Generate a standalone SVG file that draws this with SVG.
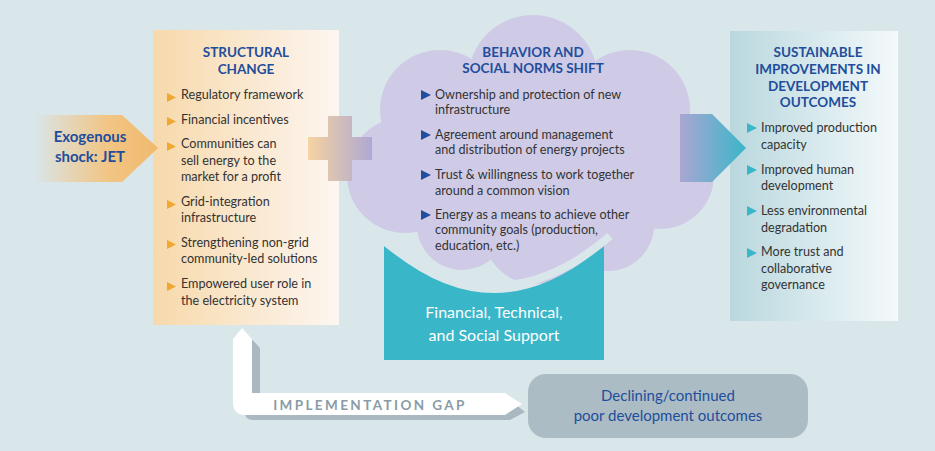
<svg xmlns="http://www.w3.org/2000/svg" width="935" height="451" viewBox="0 0 935 451">
<defs>
<linearGradient id="gL" x1="0" x2="1"><stop offset="0" stop-color="#f7d9ab"/><stop offset="1" stop-color="#fdf6f1"/></linearGradient>
<linearGradient id="gR" x1="0" x2="1"><stop offset="0" stop-color="#b9d8de"/><stop offset="1" stop-color="#f4f9fb"/></linearGradient>
<linearGradient id="gE" x1="0" x2="1"><stop offset="0" stop-color="#f2c07a" stop-opacity="0"/><stop offset="0.6" stop-color="#f2c583"/><stop offset="1" stop-color="#f0b96e"/></linearGradient>
<linearGradient id="gP" x1="0" x2="1"><stop offset="0" stop-color="#f6d3a1"/><stop offset="1" stop-color="#aea8d3"/></linearGradient>
<linearGradient id="gA" x1="0" x2="1"><stop offset="0" stop-color="#aaa6d2"/><stop offset="1" stop-color="#3ab6c9"/></linearGradient>
<style>
.t{font-family:Lato,"Liberation Sans",sans-serif;}
.h{font-weight:bold;fill:#1f4e9c;font-size:13.5px;text-anchor:middle;}
.b{fill:#333;font-size:12.6px;}
.to{fill:#f0a830}.tb{fill:#1f4e9c}.tt{fill:#3ab6c9}
.cl{fill:#cfcbe6}
</style>
</defs>
<rect width="935" height="451" fill="#d9e6ea"/>
<g id="cloud">
<circle class="cl" cx="533" cy="80" r="65"/><circle class="cl" cx="440" cy="110" r="60"/><circle class="cl" cx="630" cy="110" r="60"/>
<circle class="cl" cx="405" cy="175" r="58"/><circle class="cl" cx="660" cy="175" r="54"/><circle class="cl" cx="462" cy="225" r="45"/>
<circle class="cl" cx="535" cy="232" r="52"/><circle class="cl" cx="608" cy="225" r="46"/><ellipse class="cl" cx="533" cy="160" rx="150" ry="100"/>
</g>
<g id="support">
<path d="M384,245 Q494,341 604,245 V360 H384 Z" fill="#3ab6c9"/>
<path d="M378,236 Q494,336 610,236" fill="none" stroke="#d9e6ea" stroke-width="8"/>
<text class="t" x="494" y="318" fill="#fff" font-size="16" text-anchor="middle">Financial, Technical,</text>
<text class="t" x="494" y="341" fill="#fff" font-size="16" text-anchor="middle">and Social Support</text>
</g>
<g id="structural">
<rect x="153" y="30" width="186" height="295" fill="url(#gL)"/>
<text class="t h" x="246" y="57">STRUCTURAL</text><text class="t h" x="246" y="74">CHANGE</text>
<g class="to"><path d="M167,93 l9,4.5 -9,4.5z"/><path d="M167,117 l9,4.5 -9,4.5z"/><path d="M167,142 l9,4.5 -9,4.5z"/><path d="M167,200 l9,4.5 -9,4.5z"/><path d="M167,240 l9,4.5 -9,4.5z"/><path d="M167,282 l9,4.5 -9,4.5z"/></g>
<g class="t b">
<text x="181" y="99">Regulatory framework</text><text x="181" y="124">Financial incentives</text>
<text x="181" y="148">Communities can</text><text x="181" y="165">sell energy to the</text><text x="181" y="181">market for a profit</text>
<text x="181" y="206">Grid-integration</text><text x="181" y="222">infrastructure</text>
<text x="181" y="247">Strengthening non-grid</text><text x="181" y="263">community-led solutions</text>
<text x="181" y="288">Empowered user role in</text><text x="181" y="305">the electricity system</text>
</g>
</g>
<g id="behavior">
<text class="t h" x="533" y="57">BEHAVIOR AND</text><text class="t h" x="533" y="73">SOCIAL NORMS SHIFT</text>
<g class="tb"><path d="M421,90 l10,5 -10,5z"/><path d="M421,130 l10,5 -10,5z"/><path d="M421,170 l10,5 -10,5z"/><path d="M421,210 l10,5 -10,5z"/></g>
<g class="t b">
<text x="435" y="99">Ownership and protection of new</text><text x="435" y="114">infrastructure</text>
<text x="435" y="139">Agreement around management</text><text x="435" y="154">and distribution of energy projects</text>
<text x="435" y="179">Trust &amp; willingness to work together</text><text x="435" y="195">around a common vision</text>
<text x="435" y="219">Energy as a means to achieve other</text><text x="435" y="234">community goals (production,</text><text x="435" y="250">education, etc.)</text>
</g>
</g>
<g id="outcomes">
<rect x="730" y="31" width="168" height="290" fill="url(#gR)"/>
<text class="t h" x="818" y="57">SUSTAINABLE</text><text class="t h" x="818" y="74">IMPROVEMENTS IN</text><text class="t h" x="818" y="91">DEVELOPMENT</text><text class="t h" x="818" y="107">OUTCOMES</text>
<g class="tt"><path d="M747,123 l10,5 -10,5z"/><path d="M747,165 l10,5 -10,5z"/><path d="M747,206 l10,5 -10,5z"/><path d="M747,248 l10,5 -10,5z"/></g>
<g class="t b">
<text x="761" y="132">Improved production</text><text x="761" y="149">capacity</text>
<text x="761" y="174">Improved human</text><text x="761" y="190">development</text>
<text x="761" y="215">Less environmental</text><text x="761" y="232">degradation</text>
<text x="761" y="256">More trust and</text><text x="761" y="273">collaborative</text><text x="761" y="289">governance</text>
</g>
</g>
<g id="declining">
<rect x="528" y="374" width="280" height="64" rx="18" fill="#abbcc4"/>
<text class="t" x="668" y="401" fill="#1f4e9c" font-size="15" text-anchor="middle">Declining/continued</text>
<text class="t" x="668" y="421" fill="#1f4e9c" font-size="15" text-anchor="middle">poor development outcomes</text>
</g>
<g id="connectors">
<path d="M35,115 H122 L158,148 L122,182 H35 Z" fill="url(#gE)"/>
<path d="M328,116 H352 V137 H372 V160 H352 V181 H328 V160 H308 V137 H328 Z" fill="url(#gP)"/>
<path d="M680,114 H712 L746,148 L712,182 H680 Z" fill="url(#gA)"/>
<path d="M246,333 L260,348 V400 H510 L525,412 L510,420 H253 Q245,420 245,412 Z" fill="#a9b8c1"/>
<path d="M242,328 L252,339 V393 H505 L522,404 L505,415 H246 Q233,415 233,402 V339 Z" fill="#fff"/>
<text class="t" x="370" y="410" fill="#8a9ba6" font-size="13.5" font-weight="bold" letter-spacing="2.4" text-anchor="middle">IMPLEMENTATION GAP</text>
</g>
<g id="exo"><text class="t" x="90" y="142" fill="#1f4e9c" font-size="15" font-weight="bold" text-anchor="middle">Exogenous</text><text class="t" x="90" y="162" fill="#1f4e9c" font-size="15" font-weight="bold" text-anchor="middle">shock: JET</text></g>
</svg>
